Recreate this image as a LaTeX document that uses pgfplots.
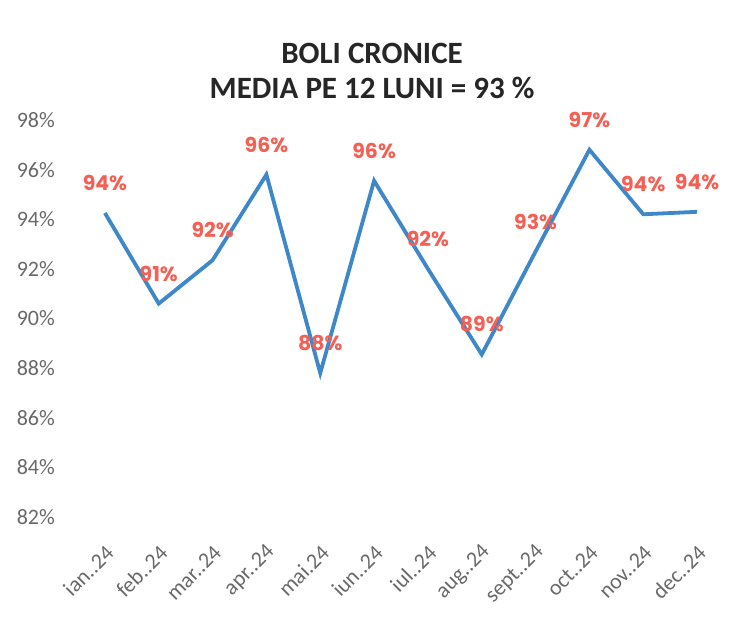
\documentclass[border=0pt]{standalone}
\usepackage{pgfplots}
\pgfplotsset{compat=1.18}
\usepackage{fontspec}
\setmainfont{Carlito}
\newfontfamily\labelfont{Poppins}
\definecolor{linecol}{RGB}{62,136,202}
\definecolor{labcol}{RGB}{244,96,84}
\definecolor{tickcol}{RGB}{105,105,105}
\begin{document}
\begin{tikzpicture}
\path[use as bounding box, fill=white] (0,0) rectangle (735bp,617bp);
\node[font=\fontsize{31bp}{35bp}\selectfont\bfseries, align=center, text=black!85] at (372bp,546bp) {BOLI CRONICE\\MEDIA PE 12 LUNI = 93 \%};
\begin{axis}[
  at={(78bp,100bp)}, anchor=south west,
  scale only axis, width=646bp, height=397bp,
  xmin=-0.5, xmax=11.5, ymin=82, ymax=98,
  ytick={82,84,...,98},
  xtick={0,...,11},
  xticklabels={ian..24,feb..24,mar..24,apr..24,mai.24,iun..24,iul..24,aug..24,sept..24,oct..24,nov..24,dec..24},
  /pgf/number format/assume math mode=true,
  yticklabel={\pgfmathprintnumber[fixed,precision=0]{\tick}\%},
  axis line style={draw=none},
  major tick length=0pt,
  tick label style={font=\fontsize{22bp}{26bp}\selectfont, text=tickcol},
  yticklabel style={anchor=east, inner sep=0pt, xshift=-23bp},
  xticklabel style={anchor=east, inner sep=0pt, xshift=5bp, yshift=-32bp, rotate=45},
  clip=false,
]
\addplot[color=linecol, line width=3.8bp, mark=none,
  nodes near coords={\pgfmathprintnumber[fixed,precision=0]{\pgfplotspointmeta}\%},
  every node near coord/.append style={anchor=center, yshift=30bp, text=labcol, font=\labelfont\bfseries\fontsize{20.5bp}{22bp}\selectfont},
] coordinates {
  (0,94.25) (1,90.6) (2,92.35) (3,95.8) (4,87.8) (5,95.55)
  (6,92.0) (7,88.55) (8,92.7) (9,96.8) (10,94.2) (11,94.3)
};
\end{axis}
\end{tikzpicture}
\end{document}
